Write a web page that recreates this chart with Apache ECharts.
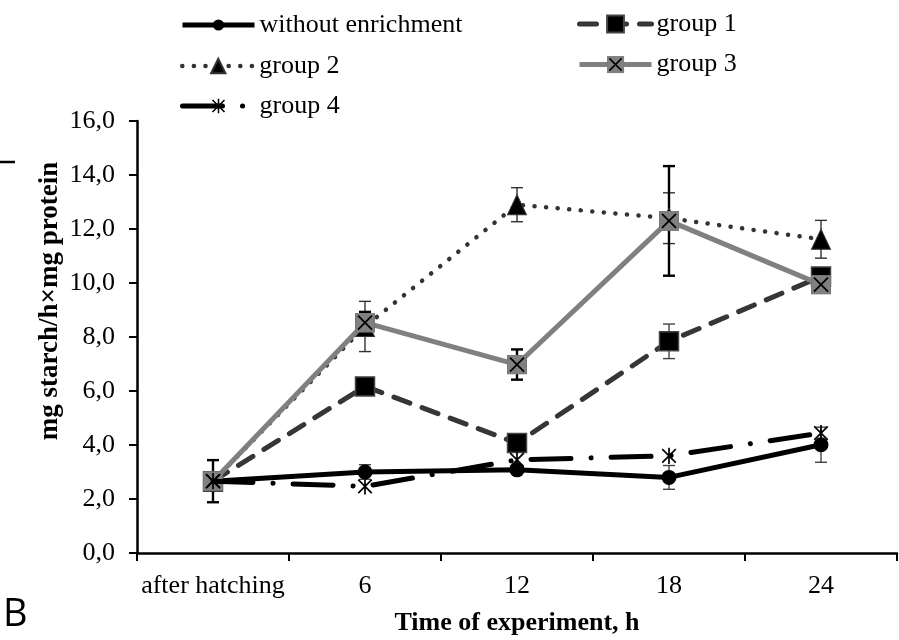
<!DOCTYPE html>
<html>
<head>
<meta charset="utf-8">
<script src="https://cdn.jsdelivr.net/npm/echarts@6/dist/echarts.min.js"></script>
<style>
  html, body { margin: 0; padding: 0; background: #fff; }
  #chart { width: 899px; height: 640px; }
</style>
</head>
<body>
<div id="chart"></div>
<script>
// Amylolytic activity over the course of the experiment
const categories = ['after hatching', '6', '12', '18', '24'];

const withoutEnrichment = [2.66, 3.0, 3.08, 2.8, 4.01];
const group1 = [2.66, 6.17, 4.07, 7.84, 10.24];
const group2 = [2.66, 8.39, 12.9, 12.4, 11.62];
const group3 = [2.66, 8.53, 6.98, 12.3, 9.94];
const group4 = [2.66, 2.47, 3.45, 3.6, 4.44];

// standard deviations (null where no bar is shown)
const errWithout = [null, 0.27, null, 0.44, 0.65];
const errGroup1 = [null, null, null, 0.64, null];
const errGroup2 = [null, 0.93, 0.63, 0.94, 0.7];
const errGroup3 = [0.78, 0.4, 0.56, 2.03, null];

const yTicks = { min: 0, max: 16, step: 2 };

const SERIF = 'Liberation Serif';

function svgSymbol(svg) {
  return 'image://data:image/svg+xml;charset=utf-8,' + encodeURIComponent(svg);
}
const crossSquare = svgSymbol(
  '<svg xmlns="http://www.w3.org/2000/svg" width="40" height="40" viewBox="0 0 40 40">' +
  '<rect x="1" y="1" width="38" height="38" fill="#808080" stroke="#777" stroke-width="2"/>' +
  '<path d="M6 6 L34 34 M34 6 L6 34" stroke="#000" stroke-width="3.6" fill="none"/></svg>');
const asterisk = svgSymbol(
  '<svg xmlns="http://www.w3.org/2000/svg" width="40" height="40" viewBox="0 0 40 40">' +
  '<path d="M20 2 L20 38 M5 5 L35 35 M35 5 L5 35" stroke="#000" stroke-width="3.8" fill="none"/></svg>');

function errorData(values, errs) {
  const out = [];
  values.forEach((v, i) => { if (errs[i] != null) out.push([i, v, errs[i]]); });
  return out;
}

function errorSeries(values, errs, color, width, cap) {
  return {
    type: 'custom',
    z: 1,
    silent: true,
    data: errorData(values, errs),
    encode: { x: 0, y: 1 },
    renderItem: function (params, api) {
      const i = api.value(0), v = api.value(1), e = api.value(2);
      const top = api.coord([i, v + e]);
      const bot = api.coord([i, v - e]);
      const style = { stroke: color, lineWidth: width };
      return {
        type: 'group',
        children: [
          { type: 'line', shape: { x1: top[0], y1: top[1], x2: bot[0], y2: bot[1] }, style: style },
          { type: 'line', shape: { x1: top[0] - cap, y1: top[1], x2: top[0] + cap, y2: top[1] }, style: style },
          { type: 'line', shape: { x1: bot[0] - cap, y1: bot[1], x2: bot[0] + cap, y2: bot[1] }, style: style }
        ]
      };
    }
  };
}

function legendFor(name, left, centerY, itemHeight, line) {
  return {
    data: [name],
    left: left,
    top: centerY - itemHeight / 2,
    padding: 0,
    itemGap: 0,
    itemWidth: 72,
    itemHeight: itemHeight,
    selectedMode: false,
    lineStyle: line,
    textStyle: { fontFamily: SERIF, fontSize: 26, color: '#000', padding: [5, 0, 0, 0] }
  };
}

const chart = echarts.init(document.getElementById('chart'), null, { renderer: 'canvas' });

chart.setOption({
  animation: false,
  backgroundColor: '#fff',
  grid: { left: 137, right: 2, top: 121, bottom: 87, containLabel: false, outerBoundsMode: 'none' },
  legend: [
    legendFor('without enrichment', 180, 19, 14, { width: 5 }),
    legendFor('group 1', 577, 21.5, 21, { width: 5, cap: 'round' }),
    legendFor('group 2', 180, 62, 18, { width: 4.5, cap: 'round' }),
    legendFor('group 3', 577, 62.5, 22, { width: 5 }),
    legendFor('group 4', 180, 103, 20, { width: 5, cap: 'round' })
  ],
  xAxis: {
    type: 'category',
    data: categories,
    boundaryGap: true,
    name: 'Time of experiment, h',
    nameLocation: 'middle',
    nameGap: 57,
    nameTextStyle: { fontFamily: SERIF, fontSize: 26, fontWeight: 'bold', color: '#000' },
    axisLine: { lineStyle: { color: '#000', width: 2.5 } },
    axisTick: { show: true, length: 8, interval: 0, lineStyle: { color: '#000', width: 2 } },
    axisLabel: { fontFamily: SERIF, fontSize: 26, color: '#000', margin: 20, interval: 0 },
    splitLine: { show: false }
  },
  yAxis: {
    type: 'value',
    min: yTicks.min,
    max: yTicks.max,
    interval: yTicks.step,
    axisLine: { show: true, lineStyle: { color: '#000', width: 2.5 } },
    axisTick: { show: true, length: 8, lineStyle: { color: '#000', width: 2 } },
    axisLabel: {
      fontFamily: SERIF, fontSize: 26, color: '#000', margin: 22,
      formatter: v => v.toFixed(1).replace('.', ',')
    },
    splitLine: { show: false }
  },
  graphic: [
    {
      type: 'text', x: 50, y: 301, rotation: Math.PI / 2,
      style: {
        text: 'mg starch/h×mg protein', fontFamily: SERIF, fontSize: 27, fontWeight: 'bold',
        fill: '#000', align: 'center', verticalAlign: 'middle'
      }
    },
    {
      type: 'text', left: 3, top: 596,
      style: { text: 'B', fontFamily: 'Open Sans', fontSize: 38, fill: '#000' }
    },
    {
      type: 'line', shape: { x1: 0, y1: 162, x2: 15, y2: 162 },
      style: { stroke: '#000', lineWidth: 2.5 }
    }
  ],
  series: [
    errorSeries(withoutEnrichment, errWithout, '#444', 1.4, 6),
    errorSeries(group1, errGroup1, '#444', 1.4, 6),
    errorSeries(group2, errGroup2, '#333', 1.4, 6),
    errorSeries(group3, errGroup3, '#000', 2.4, 6),
    {
      name: 'without enrichment', type: 'line', z: 2, data: withoutEnrichment,
      symbol: 'circle', symbolSize: 15, showAllSymbol: true,
      lineStyle: { color: '#000', width: 5 },
      itemStyle: { color: '#000' }
    },
    {
      name: 'group 1', type: 'line', z: 3, data: group1,
      symbol: 'rect', symbolSize: 19,
      lineStyle: { color: '#363636', width: 5, type: [17, 13], cap: 'round' },
      itemStyle: { color: '#000', borderColor: '#444', borderWidth: 1.5 }
    },
    {
      name: 'group 2', type: 'line', z: 4, data: group2,
      symbol: 'triangle', symbolSize: [19, 20],
      lineStyle: { color: '#333', width: 4.5, type: [0.1, 11.5], cap: 'round' },
      itemStyle: { color: '#000', borderColor: '#333', borderWidth: 1 }
    },
    {
      name: 'group 3', type: 'line', z: 5, data: group3,
      symbol: crossSquare, symbolSize: 20,
      lineStyle: { color: '#808080', width: 5 },
      itemStyle: { color: '#808080' }
    },
    {
      name: 'group 4', type: 'line', z: 6, data: group4,
      symbol: asterisk, symbolSize: 18,
      lineStyle: { color: '#000', width: 5, type: [40, 20, 0.1, 20], cap: 'round' },
      itemStyle: { color: '#000' }
    }
  ]
});
</script>
</body>
</html>
